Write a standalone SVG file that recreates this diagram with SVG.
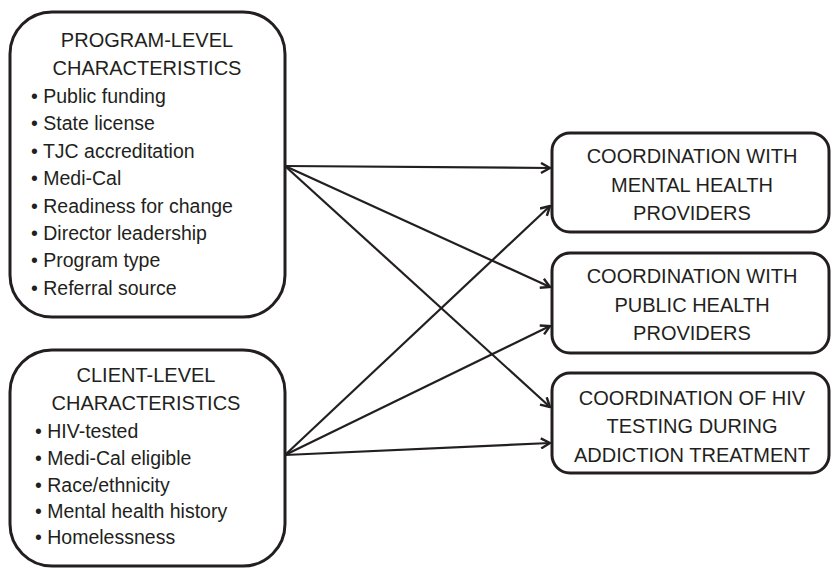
<svg xmlns="http://www.w3.org/2000/svg" width="832" height="569" viewBox="0 0 832 569">
<defs>
<style>
.box{fill:#fff;stroke:#231f20;stroke-width:3}
.t{font-family:"Liberation Sans",Arial,sans-serif;font-size:20px;fill:#231f20;text-anchor:middle}
.b{font-family:"Liberation Sans",Arial,sans-serif;font-size:19.5px;fill:#231f20}
.c{stroke:#231f20;stroke-width:2.2;fill:none}
</style>
<marker id="arr" viewBox="0 0 12 12" refX="11" refY="6" markerWidth="12" markerHeight="12" markerUnits="userSpaceOnUse" orient="auto">
<path d="M2,1 L11,6 L2,11" fill="none" stroke="#231f20" stroke-width="2.4"/>
</marker>
</defs>
<rect width="832" height="569" fill="#fff"/>
<g id="connectors">
<line class="c" x1="285" y1="166" x2="550" y2="168" marker-end="url(#arr)"/>
<line class="c" x1="285" y1="166" x2="550" y2="287" marker-end="url(#arr)"/>
<line class="c" x1="285" y1="166" x2="550" y2="407" marker-end="url(#arr)"/>
<line class="c" x1="285" y1="455" x2="550" y2="206" marker-end="url(#arr)"/>
<line class="c" x1="285" y1="455" x2="550" y2="326" marker-end="url(#arr)"/>
<line class="c" x1="285" y1="455" x2="550" y2="443" marker-end="url(#arr)"/>
</g>
<g id="program">
<rect class="box" x="10" y="12" width="275" height="305" rx="42"/>
<text class="t" x="147" y="47">PROGRAM-LEVEL</text>
<text class="t" x="147" y="75">CHARACTERISTICS</text>
<text class="b" x="31" y="103">• Public funding</text>
<text class="b" x="31" y="130">• State license</text>
<text class="b" x="31" y="158">• TJC accreditation</text>
<text class="b" x="31" y="185">• Medi-Cal</text>
<text class="b" x="31" y="213">• Readiness for change</text>
<text class="b" x="31" y="240">• Director leadership</text>
<text class="b" x="31" y="267">• Program type</text>
<text class="b" x="31" y="295">• Referral source</text>
</g>
<g id="client">
<rect class="box" x="10" y="350" width="275" height="216" rx="42"/>
<text class="t" x="146" y="382">CLIENT-LEVEL</text>
<text class="t" x="146" y="410">CHARACTERISTICS</text>
<text class="b" x="35" y="438">• HIV-tested</text>
<text class="b" x="35" y="465">• Medi-Cal eligible</text>
<text class="b" x="35" y="492">• Race/ethnicity</text>
<text class="b" x="35" y="518">• Mental health history</text>
<text class="b" x="35" y="544">• Homelessness</text>
</g>
<g id="mental">
<rect class="box" x="552" y="133" width="277" height="99" rx="18"/>
<text class="t" x="692" y="163">COORDINATION WITH</text>
<text class="t" x="692" y="192">MENTAL HEALTH</text>
<text class="t" x="692" y="220">PROVIDERS</text>
</g>
<g id="public">
<rect class="box" x="552" y="253" width="277" height="100" rx="18"/>
<text class="t" x="692" y="283">COORDINATION WITH</text>
<text class="t" x="692" y="312">PUBLIC HEALTH</text>
<text class="t" x="692" y="340">PROVIDERS</text>
</g>
<g id="hiv">
<rect class="box" x="552" y="373" width="277" height="100" rx="18"/>
<text class="t" x="692" y="405">COORDINATION OF HIV</text>
<text class="t" x="692" y="433">TESTING DURING</text>
<text class="t" x="692" y="462">ADDICTION TREATMENT</text>
</g>
</svg>
